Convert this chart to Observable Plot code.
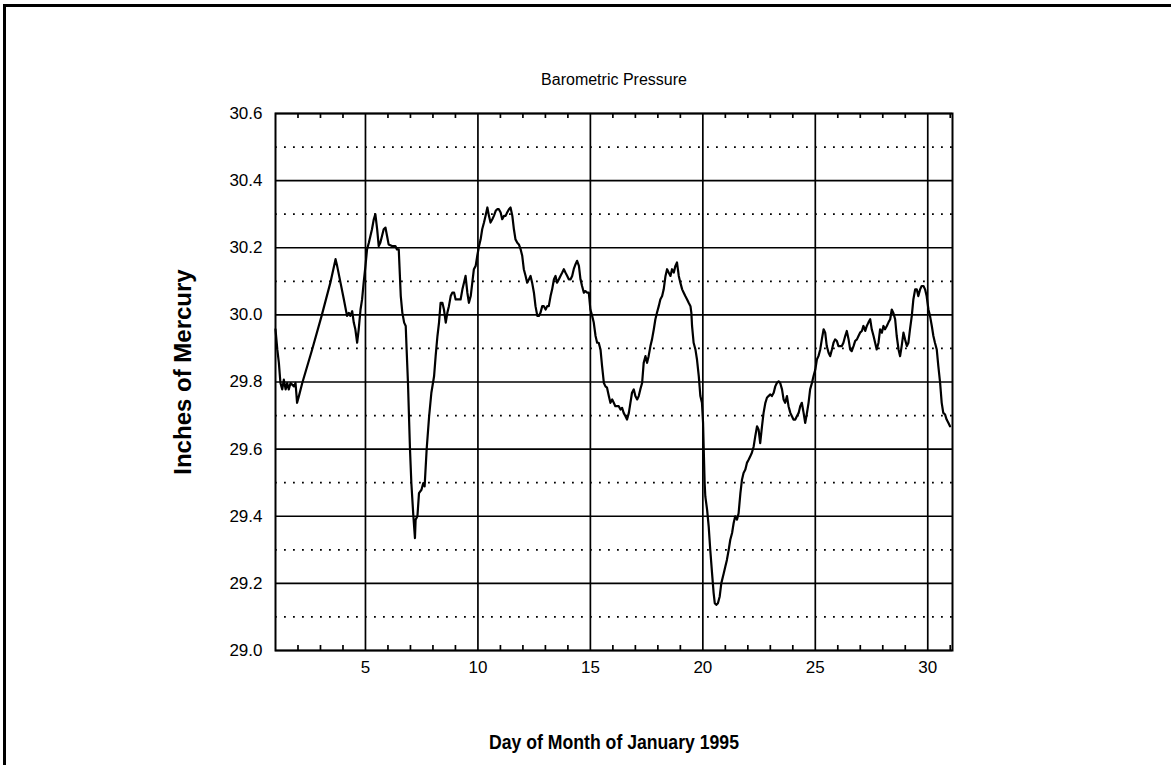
<!DOCTYPE html>
<html><head><meta charset="utf-8">
<script src="https://cdn.jsdelivr.net/npm/d3@7"></script>
<script src="https://cdn.jsdelivr.net/npm/@observablehq/plot@0.6"></script>
<style>
html,body{margin:0;padding:0;background:#fff;}
#wrap{position:relative;width:1171px;height:765px;overflow:hidden;font-family:"Liberation Sans",Arial,sans-serif;}
#wrap .bt{position:absolute;left:3px;top:4px;width:1168px;height:3px;background:#000;}
#wrap .bl{position:absolute;left:3px;top:4px;width:3px;height:761px;background:#000;}
#chart{position:absolute;left:0;top:0;}
</style></head><body>
<div id="wrap"><div id="chart"></div><div class="bt"></div><div class="bl"></div></div>
<script>
const title = "Barometric Pressure";
const xLabel = "Day of Month of January 1995";
const yLabel = "Inches of Mercury";

const day = [
1.00,1.08,1.15,1.22,1.30,1.37,1.45,1.52,1.59,1.67,1.82,1.89,1.96,2.04,2.19,2.63,3.05,3.44,3.67,3.74,
3.89,4.04,4.18,4.26,4.33,4.41,4.48,4.55,4.63,4.70,4.78,4.85,4.92,5.00,5.07,5.15,5.22,5.29,5.37,5.44,
5.52,5.59,5.66,5.81,5.89,5.96,6.03,6.18,6.33,6.40,6.48,6.57,6.64,6.72,6.79,6.83,6.89,6.98,7.04,7.13,
7.20,7.23,7.31,7.38,7.49,7.57,7.63,7.72,7.83,7.93,8.05,8.12,8.20,8.27,8.34,8.42,8.49,8.57,8.64,8.71,
8.79,8.86,8.94,9.01,9.08,9.23,9.31,9.38,9.45,9.53,9.60,9.68,9.75,9.82,9.90,9.97,10.05,10.12,10.19,10.27,
10.34,10.42,10.49,10.56,10.64,10.71,10.79,10.86,10.93,11.01,11.08,11.16,11.23,11.30,11.38,11.45,11.53,11.60,11.67,11.75,
11.82,11.90,11.97,12.04,12.12,12.19,12.27,12.34,12.41,12.49,12.56,12.64,12.71,12.78,12.86,12.93,13.01,13.08,13.15,13.23,
13.30,13.38,13.45,13.52,13.60,13.67,13.75,13.82,13.89,13.97,14.04,14.12,14.19,14.26,14.34,14.41,14.49,14.56,14.63,14.71,
14.78,14.86,14.93,15.00,15.08,15.15,15.23,15.30,15.37,15.45,15.52,15.60,15.67,15.74,15.82,15.89,15.97,16.04,16.11,16.19,
16.26,16.34,16.41,16.48,16.56,16.63,16.71,16.78,16.85,16.93,17.00,17.08,17.15,17.22,17.30,17.37,17.45,17.52,17.59,17.67,
17.74,17.82,17.89,17.96,18.04,18.11,18.19,18.26,18.34,18.41,18.48,18.56,18.63,18.71,18.78,18.85,18.93,19.00,19.08,19.15,
19.22,19.30,19.37,19.45,19.49,19.52,19.59,19.67,19.74,19.82,19.89,19.96,20.01,20.04,20.08,20.11,20.19,20.26,20.33,20.41,
20.48,20.53,20.60,20.67,20.75,20.82,20.93,21.00,21.07,21.15,21.22,21.30,21.37,21.44,21.52,21.59,21.67,21.74,21.81,21.89,
21.96,22.04,22.11,22.18,22.26,22.33,22.41,22.48,22.55,22.63,22.70,22.78,22.85,22.92,23.00,23.07,23.15,23.22,23.29,23.37,
23.44,23.52,23.59,23.66,23.74,23.81,23.89,23.96,24.03,24.11,24.18,24.26,24.33,24.40,24.48,24.55,24.63,24.70,24.77,24.85,
24.92,25.00,25.07,25.14,25.22,25.29,25.37,25.44,25.51,25.59,25.66,25.74,25.81,25.88,25.96,26.03,26.11,26.18,26.25,26.33,
26.40,26.48,26.55,26.62,26.70,26.77,26.85,26.92,26.99,27.07,27.14,27.22,27.29,27.36,27.44,27.51,27.59,27.66,27.73,27.81,
27.88,27.96,28.03,28.10,28.18,28.25,28.33,28.40,28.47,28.55,28.62,28.70,28.77,28.84,28.92,28.99,29.07,29.14,29.21,29.29,
29.36,29.44,29.51,29.58,29.66,29.73,29.81,29.88,29.95,30.03,30.10,30.18,30.25,30.32,30.40,30.47,30.55,30.62,30.69,30.77,
30.84,30.92,30.99
];
const inHg = [
29.957,29.897,29.857,29.797,29.778,29.807,29.778,29.797,29.778,29.797,29.787,29.797,29.738,29.758,29.797,29.897,29.997,30.096,30.166,30.146,
30.096,30.046,29.997,30.006,29.997,30.011,29.977,29.957,29.917,29.957,30.016,30.046,30.096,30.146,30.195,30.215,30.235,30.255,30.285,30.300,
30.255,30.205,30.215,30.255,30.260,30.235,30.210,30.205,30.205,30.195,30.195,30.056,30.006,29.977,29.967,29.897,29.797,29.599,29.499,29.400,
29.335,29.390,29.400,29.469,29.479,29.499,29.489,29.599,29.698,29.768,29.817,29.877,29.937,29.977,30.036,30.036,30.016,29.977,30.006,30.026,
30.056,30.066,30.066,30.046,30.046,30.046,30.076,30.096,30.116,30.066,30.036,30.056,30.096,30.136,30.146,30.176,30.205,30.225,30.255,30.275,
30.295,30.320,30.295,30.275,30.285,30.295,30.310,30.315,30.315,30.305,30.285,30.295,30.295,30.305,30.315,30.320,30.295,30.255,30.225,30.215,
30.210,30.195,30.176,30.136,30.116,30.096,30.106,30.116,30.096,30.066,30.026,29.997,29.997,30.006,30.026,30.026,30.016,30.026,30.026,30.056,
30.076,30.106,30.116,30.096,30.106,30.116,30.126,30.136,30.126,30.116,30.106,30.106,30.116,30.136,30.151,30.161,30.146,30.106,30.086,30.066,
30.071,30.066,30.066,30.016,29.997,29.977,29.937,29.917,29.917,29.897,29.847,29.797,29.787,29.783,29.758,29.738,29.748,29.738,29.728,29.728,
29.728,29.718,29.723,29.708,29.698,29.688,29.708,29.738,29.768,29.778,29.758,29.748,29.758,29.778,29.797,29.857,29.877,29.857,29.877,29.907,
29.927,29.957,29.987,30.006,30.026,30.046,30.056,30.076,30.116,30.136,30.126,30.116,30.136,30.126,30.146,30.156,30.116,30.096,30.076,30.066,
30.056,30.046,30.036,30.026,30.006,29.967,29.917,29.897,29.867,29.817,29.758,29.738,29.678,29.599,29.499,29.459,29.419,29.370,29.300,29.230,
29.171,29.141,29.136,29.141,29.161,29.200,29.230,29.250,29.270,29.300,29.330,29.350,29.380,29.400,29.390,29.409,29.469,29.509,29.529,29.539,
29.559,29.569,29.579,29.589,29.608,29.638,29.668,29.658,29.618,29.668,29.708,29.738,29.753,29.758,29.763,29.758,29.768,29.787,29.797,29.802,
29.797,29.778,29.748,29.738,29.758,29.728,29.708,29.698,29.688,29.688,29.698,29.708,29.728,29.738,29.708,29.678,29.708,29.738,29.778,29.797,
29.817,29.837,29.867,29.877,29.897,29.927,29.957,29.947,29.907,29.887,29.877,29.897,29.917,29.927,29.922,29.907,29.907,29.907,29.917,29.937,
29.952,29.927,29.897,29.892,29.907,29.922,29.927,29.937,29.947,29.952,29.967,29.952,29.967,29.977,29.987,29.957,29.937,29.917,29.897,29.917,
29.957,29.947,29.967,29.957,29.967,29.977,29.987,30.016,30.006,29.987,29.937,29.897,29.877,29.907,29.947,29.927,29.907,29.917,29.957,29.997,
30.046,30.076,30.076,30.056,30.076,30.086,30.086,30.076,30.056,30.016,29.997,29.967,29.937,29.917,29.897,29.847,29.797,29.738,29.708,29.703,
29.688,29.678,29.668
];

const xTicks = [5, 10, 15, 20, 25, 30];
const dayTicks = [2,3,4,6,7,8,9,11,12,13,14,16,17,18,19,21,22,23,24,26,27,28,29,31];
const yTicks = [29.0, 29.2, 29.4, 29.6, 29.8, 30.0, 30.2, 30.4, 30.6];
const yMinor = [29.1, 29.3, 29.5, 29.7, 29.9, 30.1, 30.3, 30.5];

const data = day.map((d, i) => ({day: d, p: inHg[i]}));
const font = "'Liberation Sans', Arial, Helvetica, sans-serif";

const chart = Plot.plot({
  width: 1171,
  height: 765,
  marginLeft: 275,
  marginRight: 219,
  marginTop: 113,
  marginBottom: 115,
  style: {fontFamily: font, background: "transparent", color: "#000"},
  x: {domain: [1, 31.1]},
  y: {domain: [29.0, 30.6]},
  marks: [
    Plot.ruleY(yMinor, {stroke: "#000", strokeWidth: 1.8, strokeDasharray: "1.8,7.2"}),
    Plot.ruleY(yTicks, {stroke: "#000", strokeWidth: 1.7}),
    Plot.ruleX(xTicks, {stroke: "#000", strokeWidth: 1.7}),
    Plot.ruleX(dayTicks, {stroke: "#000", strokeWidth: 1.7, insetTop: 532}),
    Plot.ruleX(dayTicks, {stroke: "#000", strokeWidth: 1.7, insetBottom: 532}),
    Plot.frame({stroke: "#000", strokeWidth: 2}),
    Plot.line(data, {x: "day", y: "p", stroke: "#000", strokeWidth: 2.2, strokeLinejoin: "round"}),
    Plot.axisX(xTicks, {tickSize: 0, tickPadding: 10, fontSize: 17, label: null}),
    Plot.axisY(yTicks, {tickSize: 0, tickPadding: 13, fontSize: 17, label: null, tickFormat: d => d.toFixed(1)}),
    Plot.text([title], {frameAnchor: "top", dy: -40, fontSize: 16, fill: "#000"}),
    Plot.text([yLabel], {frameAnchor: "left", textAnchor: "middle", rotate: -90, dx: -92, dy: -10, fontSize: 24, fontWeight: "bold", fill: "#000"}),
    Plot.text([xLabel], {frameAnchor: "bottom", dy: 98, fontSize: 20, fontWeight: "bold", fill: "#000"})
  ]
});
// condense the x label slightly, like the reference's narrow lettering
d3.select(chart).selectAll("text").filter(function() { return this.textContent === xLabel; })
  .attr("textLength", 250).attr("lengthAdjust", "spacingAndGlyphs");
document.getElementById("chart").appendChild(chart);
</script>
</body></html>
